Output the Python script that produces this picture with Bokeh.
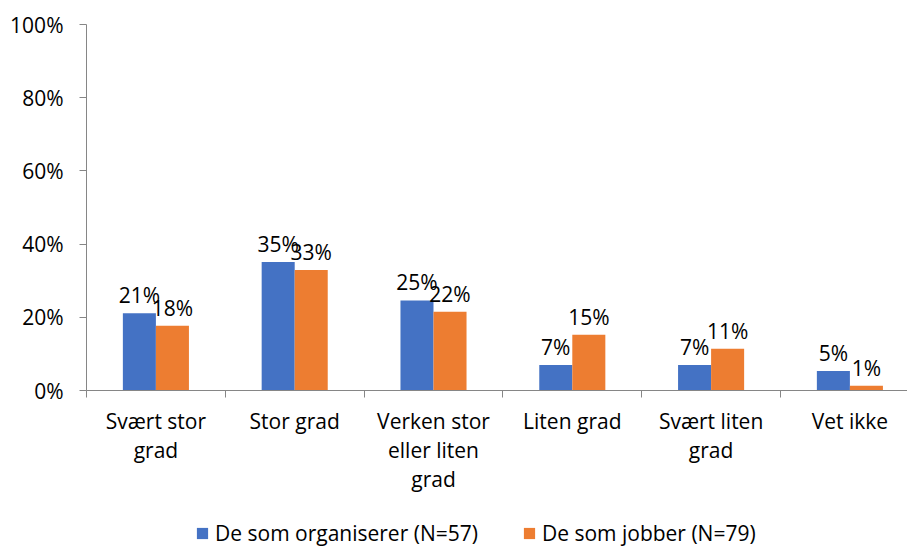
from bokeh.plotting import figure
from bokeh.layouts import column
from bokeh.models import (ColumnDataSource, Range1d, FixedTicker, PrintfTickFormatter,
                          Legend, LegendItem)
from bokeh.transform import dodge
from bokeh.core.properties import value
from bokeh.embed import file_html
from bokeh.resources import INLINE

categories = ["Svært stor\ngrad", "Stor grad", "Verken stor\neller liten\ngrad",
              "Liten grad", "Svært liten\ngrad", "Vet ikke"]
organiserer = [21.1, 35.1, 24.6, 7.0, 7.0, 5.3]
jobber = [17.7, 32.9, 21.5, 15.2, 11.4, 1.3]
series_names = ["De som organiserer (N=57)", "De som jobber (N=79)"]
y_ticks = [0, 20, 40, 60, 80, 100]

BLUE = "#4472C4"
ORANGE = "#ED7D31"
AXIS = "#868686"
FONT = "Open Sans"
FS = "21px"

pos = [i + 0.5 for i in range(len(categories))]
src = ColumnDataSource(dict(
    x=pos,
    org=organiserer,
    job=jobber,
    org_lbl=[f"{round(v)}%" for v in organiserer],
    job_lbl=[f"{round(v)}%" for v in jobber],
))

p = figure(width=907, height=500, output_backend="svg", toolbar_location=None,
           x_range=Range1d(0, 5.915), y_range=Range1d(0, 100),
           min_border_left=86, min_border_right=0, min_border_top=24,
           min_border_bottom=110)
p.outline_line_color = None
p.grid.visible = False
p.background_fill_color = "white"
p.border_fill_color = "white"

bw = 0.238
r1 = p.vbar(x=dodge("x", -bw / 2), top="org", width=bw, bottom=0, source=src,
            fill_color=BLUE, line_color=None)
r2 = p.vbar(x=dodge("x", bw / 2), top="job", width=bw, bottom=0, source=src,
            fill_color=ORANGE, line_color=None)

for fld, off in (("org_lbl", -bw / 2), ("job_lbl", bw / 2)):
    ycol = "org" if fld == "org_lbl" else "job"
    p.text(x=dodge("x", off), y=ycol, text=fld, source=src,
           text_align="center", text_baseline="alphabetic", y_offset=-18,
           text_font=value(FONT), text_font_size=FS, text_color="#000000")

# y axis
ya = p.yaxis[0]
ya.ticker = FixedTicker(ticks=y_ticks)
ya.formatter = PrintfTickFormatter(format="%d%%")
ya.axis_line_color = AXIS
ya.major_tick_line_color = AXIS
ya.major_tick_out = 7
ya.major_tick_in = 0
ya.minor_tick_out = 0
ya.minor_tick_in = 0
ya.major_label_standoff = 16
ya.major_label_text_font = FONT
ya.major_label_text_font_size = FS
ya.major_label_text_color = "#000000"

# x axis
xa = p.xaxis[0]
xa.ticker = FixedTicker(ticks=pos, minor_ticks=list(range(len(categories) + 1)))
xa.major_label_overrides = {x: c for x, c in zip(pos, categories)}
xa.axis_line_color = AXIS
xa.major_tick_out = 0
xa.major_tick_in = 0
xa.minor_tick_out = 7
xa.minor_tick_in = 0
xa.minor_tick_line_color = AXIS
xa.major_label_standoff = 9
xa.major_label_text_font = FONT
xa.major_label_text_font_size = FS
xa.major_label_text_color = "#000000"
xa.major_label_text_line_height = 1.05

# legend strip below the chart (its frame is aligned with the chart's frame)
lg = figure(width=907, height=47, output_backend="svg", toolbar_location=None,
            x_range=Range1d(0, 1), y_range=Range1d(0, 1),
            x_axis_type=None, y_axis_type=None, min_border=0)
lg.outline_line_color = None
lg.grid.visible = False
k1 = lg.vbar(x=[-5], top=[0], bottom=[0], width=0.1, fill_color=BLUE, line_color=None)
k2 = lg.vbar(x=[-5], top=[0], bottom=[0], width=0.1, fill_color=ORANGE, line_color=None)

legend = Legend(items=[LegendItem(label=series_names[0], renderers=[k1]),
                       LegendItem(label=series_names[1], renderers=[k2])],
                orientation="horizontal", location=(109, 0),
                padding=0, margin=0, spacing=44, label_standoff=6,
                glyph_width=14, glyph_height=14,
                border_line_color=None, background_fill_alpha=0,
                label_text_font=FONT, label_text_font_size=FS,
                label_text_color="#000000")
lg.add_layout(legend, "center")

open("out.html", "w").write(file_html(column(p, lg, spacing=0), INLINE))
